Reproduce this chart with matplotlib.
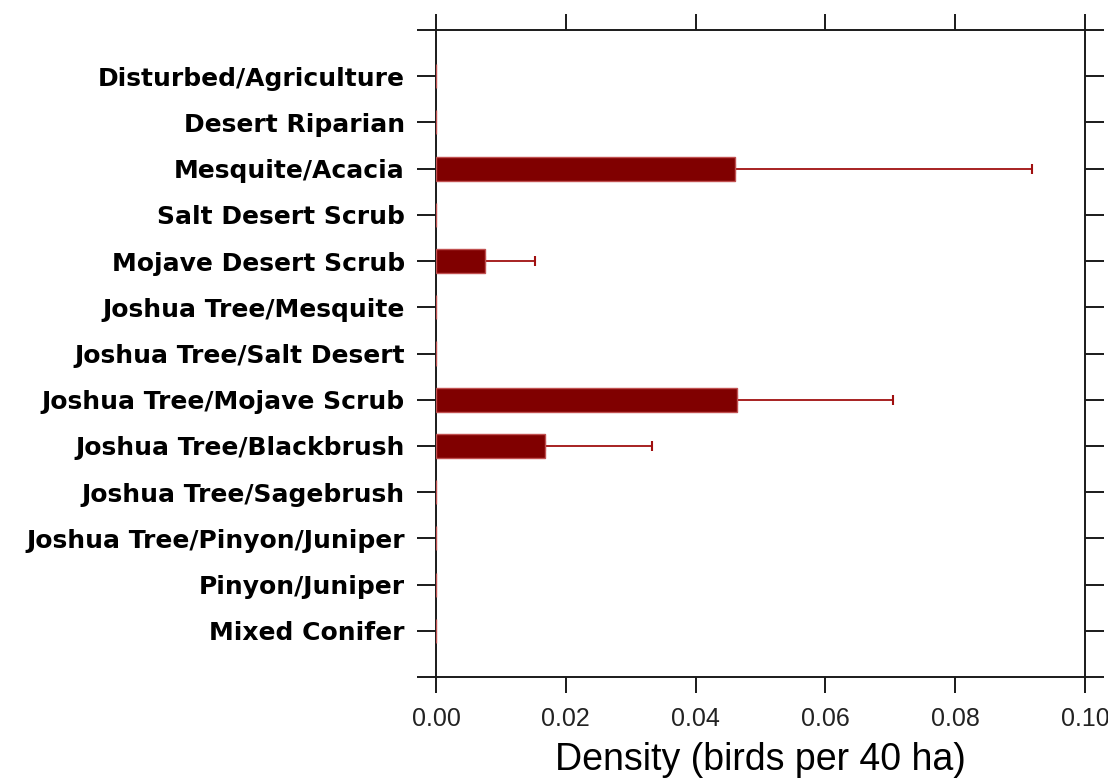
import matplotlib
matplotlib.use("Agg")
import matplotlib.pyplot as plt
import numpy as np

categories = ["Disturbed/Agriculture", "Desert Riparian", "Mesquite/Acacia",
              "Salt Desert Scrub", "Mojave Desert Scrub", "Joshua Tree/Mesquite",
              "Joshua Tree/Salt Desert", "Joshua Tree/Mojave Scrub",
              "Joshua Tree/Blackbrush", "Joshua Tree/Sagebrush",
              "Joshua Tree/Pinyon/Juniper", "Pinyon/Juniper", "Mixed Conifer"]
density = [0, 0, 0.0461, 0, 0.0075, 0, 0, 0.0464, 0.0168, 0, 0, 0, 0]
err_upper = [0, 0, 0.0458, 0, 0.0077, 0, 0, 0.0240, 0.0165, 0, 0, 0, 0]
x_ticks = [0.00, 0.02, 0.04, 0.06, 0.08, 0.10]
x_tick_labels = ["0.00", "0.02", "0.04", "0.06", "0.08", "0.10"]

fig = plt.figure(figsize=(11.08, 7.79), dpi=100)
ax = fig.add_axes([436/1108, 1-677/779, (1085-436)/1108, (677-30)/779])

n = len(categories)
ypos = np.arange(n, 0, -1)

ax.barh(ypos, density, height=0.52, color="#800000", edgecolor="#c05050",
        linewidth=1.0, zorder=3)
for y, d, e in zip(ypos, density, err_upper):
    if e > 0:
        ax.errorbar(d, y, xerr=[[0], [e]], fmt="none", ecolor="#a01010",
                    elinewidth=1.3, capsize=3.5, capthick=1.5, zorder=2)

ax.set_xlim(0, 0.10)
ax.set_ylim(0, n + 1)
ax.set_xticks(x_ticks)
ax.set_xticklabels(x_tick_labels, fontfamily="Liberation Sans", fontsize=18,
                   color="#222222")
ax.set_yticks(np.arange(0, n + 2))
ax.set_yticklabels([""] + list(categories[::-1]) + [""],
                   fontfamily="DejaVu Sans", fontweight="bold", fontsize=18)

ax.tick_params(axis="x", which="major", direction="out", length=11.5, width=1.4,
               top=True, bottom=True, pad=10, color="#1a1a1a")
ax.tick_params(axis="y", which="major", direction="out", length=13.5, width=1.4,
               left=True, right=True, pad=9, color="#1a1a1a")
for s in ax.spines.values():
    s.set_linewidth(1.4)
    s.set_color("#1a1a1a")

ax.set_xlabel("Density (birds per 40 ha)", fontfamily="Liberation Sans",
              fontsize=27, labelpad=8)

fig.savefig("out.png", dpi=100)
